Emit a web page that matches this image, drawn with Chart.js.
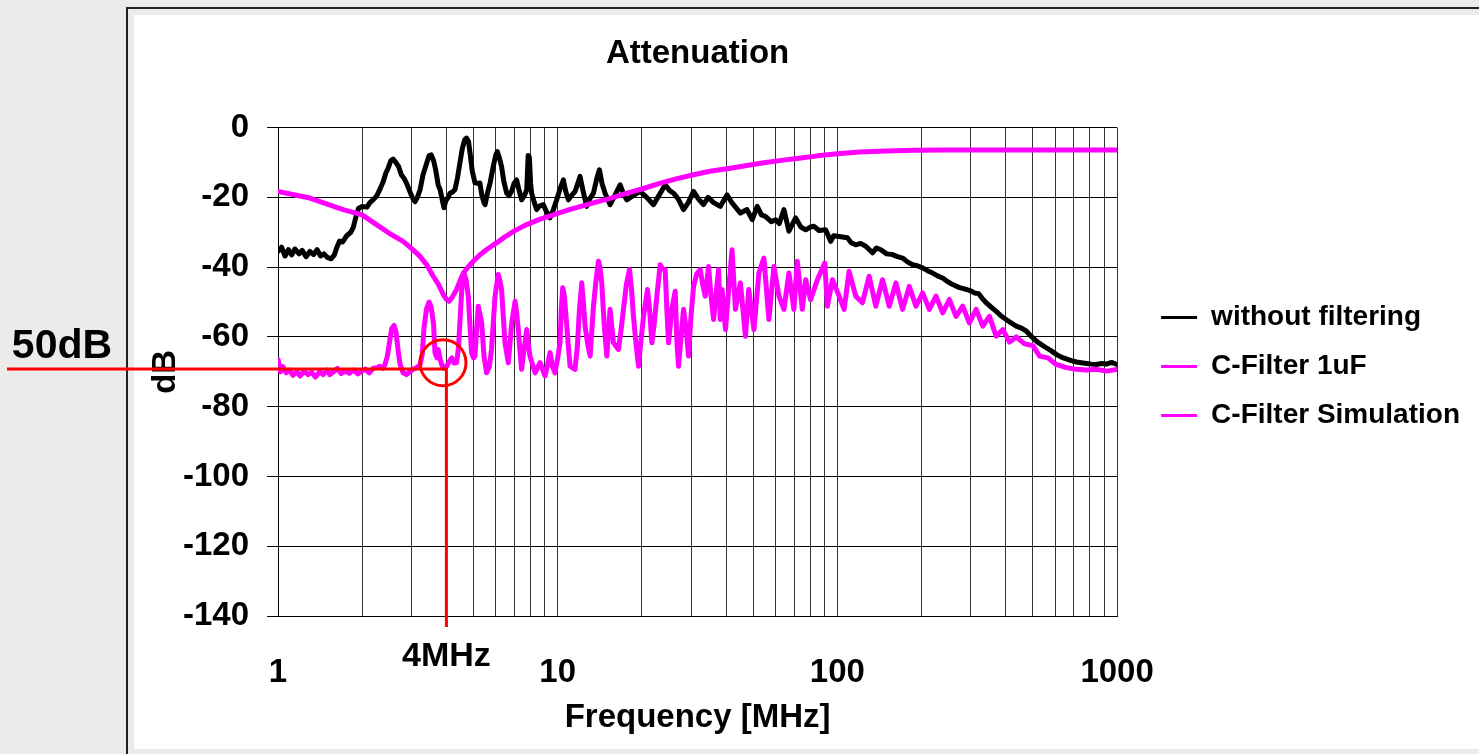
<!DOCTYPE html>
<html lang="en">
<head>
    <meta charset="UTF-8">
    <title>Attenuation</title>
    <script src="https://cdn.jsdelivr.net/npm/chart.js"></script>
    <style>
        body {
            margin: 0;
            background-color: #ebebeb;
            overflow: hidden;
        }
        .frame {
            position: absolute;
            left: 126px;
            top: 7px;
            right: 0;
            bottom: 0;
            border-left: 2px solid #222;
            border-top: 2px solid #222;
            background-color: #ebebeb;
        }
        .sheet {
            position: absolute;
            left: 134px;
            top: 15px;
            right: 0;
            height: 734px;
            background-color: #ffffff;
        }
        #chart {
            position: absolute;
            left: 0;
            top: 0;
        }
    </style>
</head>
<body>
    <div class="frame"></div>
    <div class="sheet"></div>
    <canvas id="chart" width="1479" height="754"></canvas>

    <script>
        // Frequency axis (MHz): grid lines and labelled decades
        const gridFreqs = [1, 2, 3, 4, 5, 6, 7, 8, 9, 10, 20, 30, 40, 50, 60, 70, 80, 90,
                           100, 200, 300, 400, 500, 600, 700, 800, 900, 1000];
        const labelFreqs = [1, 10, 100, 1000];

        const seriesNames = ['without filtering', 'C-Filter 1uF', 'C-Filter Simulation'];

        // [frequency MHz, dB]
        const withoutFiltering = [
            [1.00, -35.5], [1.03, -34.3], [1.06, -36.8], [1.09, -35.0], [1.12, -36.5], [1.15, -34.8],
            [1.19, -36.2], [1.22, -35.2], [1.26, -37.0], [1.30, -35.5], [1.34, -36.4], [1.38, -35.0],
            [1.42, -36.8], [1.46, -36.2], [1.50, -37.2], [1.55, -37.6], [1.59, -36.5], [1.62, -34.5],
            [1.66, -32.5], [1.70, -32.8], [1.76, -31.0], [1.82, -30.0], [1.86, -28.5], [1.90, -25.5],
            [1.94, -23.2], [2.00, -22.6], [2.08, -22.8], [2.13, -21.5], [2.20, -20.5], [2.25, -19.7],
            [2.32, -17.5], [2.38, -15.4], [2.43, -13.0], [2.48, -11.5], [2.53, -9.5], [2.58, -9.0],
            [2.63, -9.8], [2.70, -11.2], [2.76, -13.5], [2.82, -14.5], [2.88, -15.9], [2.95, -18.0],
            [3.02, -20.0], [3.09, -21.2], [3.15, -20.0], [3.22, -17.8], [3.30, -13.5], [3.40, -10.2],
            [3.47, -8.0], [3.53, -7.8], [3.60, -9.5], [3.66, -12.0], [3.74, -16.5], [3.80, -17.8],
            [3.86, -20.5], [3.92, -23.0], [3.98, -21.0], [4.06, -20.0], [4.12, -18.8], [4.20, -18.5],
            [4.29, -17.8], [4.38, -14.5], [4.47, -10.2], [4.56, -6.0], [4.65, -3.5], [4.72, -3.0],
            [4.80, -4.0], [4.86, -7.3], [4.95, -12.5], [5.06, -15.8], [5.18, -16.0], [5.27, -15.9],
            [5.36, -19.5], [5.45, -21.5], [5.50, -22.1], [5.60, -19.0], [5.73, -15.9], [5.88, -11.2],
            [6.00, -8.0], [6.08, -6.9], [6.18, -8.5], [6.30, -11.2], [6.42, -15.5], [6.57, -18.8],
            [6.70, -19.5], [6.84, -18.3], [6.98, -16.0], [7.13, -15.0], [7.25, -17.5], [7.43, -20.7],
            [7.60, -19.5], [7.75, -17.8], [7.84, -8.0], [7.92, -8.5], [8.00, -16.0], [8.07, -18.8],
            [8.25, -21.5], [8.41, -23.5], [8.60, -22.5], [8.89, -22.1], [9.10, -24.0], [9.39, -25.9],
            [9.65, -23.5], [9.92, -20.7], [10.2, -17.5], [10.48, -15.0], [10.7, -18.5], [10.92, -20.7],
            [11.2, -19.5], [11.54, -18.3], [11.8, -16.0], [12.02, -14.0], [12.35, -18.5], [12.70, -22.6],
            [13.0, -20.5], [13.42, -18.8], [13.8, -14.5], [14.10, -12.1], [14.4, -16.0], [14.77, -18.8],
            [15.40, -22.1], [16.0, -19.5], [16.72, -16.4], [17.2, -19.0], [17.66, -20.7], [18.6, -19.5],
            [19.71, -18.3], [20.8, -20.0], [22.00, -22.1], [23.0, -19.5], [24.23, -16.4], [25.1, -18.0],
            [25.95, -18.8], [27.0, -20.5], [28.18, -23.5], [29.3, -21.5], [30.6, -18.3], [31.9, -20.5],
            [33.2, -22.1], [34.5, -20.0], [36.1, -21.5], [38.1, -22.6], [40.3, -19.3], [42.0, -21.6],
            [45.0, -24.5], [47.5, -23.5], [49.6, -26.4], [51.7, -22.6], [53.5, -25.0], [55.4, -25.5],
            [58.0, -27.0], [60.1, -26.4], [62.0, -27.5], [64.4, -23.5], [67.1, -29.7], [70.9, -25.9],
            [74.0, -28.5], [77.0, -29.3], [80.0, -28.5], [82.5, -28.3], [86.0, -29.5], [90.8, -29.3],
            [94.6, -32.6], [97.0, -31.0], [101.4, -31.2], [108.6, -31.6], [112, -33.0], [116.3, -33.6],
            [121, -33.2], [126.3, -34.0], [133.5, -35.9], [138, -34.5], [143, -35.0], [150, -36.2],
            [157.4, -36.4], [164, -37.0], [171, -37.4], [178, -38.5], [185.7, -39.3], [193, -39.6],
            [201.7, -40.2], [210, -41.0], [219, -41.7], [228, -42.5], [237.8, -43.1], [248, -44.2],
            [258.4, -45.0], [272, -45.8], [288.4, -46.4], [300, -46.8], [309, -47.4], [320, -47.6],
            [330, -49.0], [340, -50.2], [355, -51.5], [369, -52.6], [385, -54.0], [401, -55.0],
            [418, -56.0], [436, -56.9], [455, -57.5], [473, -58.3], [493, -59.8], [514, -61.2],
            [536, -62.2], [558, -63.1], [582, -64.0], [606, -65.0], [632, -65.8], [658, -66.3],
            [686, -66.8], [715, -67.2], [745, -67.4], [777, -67.6], [810, -67.8], [843, -67.9],
            [880, -67.6], [916, -67.8], [955, -67.3], [1000, -67.9]
        ];

        const cFilter1uF = [
            [1.00, -66.5], [1.02, -70.0], [1.04, -68.5], [1.07, -70.3], [1.10, -69.5], [1.13, -71.0],
            [1.17, -70.0], [1.20, -71.2], [1.24, -69.8], [1.28, -70.8], [1.32, -70.2], [1.36, -71.5],
            [1.41, -70.0], [1.45, -70.8], [1.50, -69.5], [1.53, -70.8], [1.58, -70.0], [1.63, -69.0],
            [1.68, -70.5], [1.74, -69.8], [1.80, -70.4], [1.86, -69.5], [1.93, -70.6], [1.98, -70.0],
            [2.05, -69.2], [2.12, -70.3], [2.19, -69.0], [2.26, -68.8], [2.31, -68.4], [2.37, -69.0],
            [2.41, -68.0], [2.46, -65.5], [2.51, -61.0], [2.55, -57.6], [2.60, -56.7], [2.64, -58.5],
            [2.69, -64.0], [2.73, -67.8], [2.80, -70.3], [2.88, -70.8], [2.96, -70.0], [3.05, -69.2],
            [3.13, -68.8], [3.22, -68.0], [3.28, -65.0], [3.33, -57.0], [3.40, -51.8], [3.47, -50.0],
            [3.53, -51.5], [3.60, -56.5], [3.64, -64.5], [3.70, -66.0], [3.74, -63.6], [3.80, -66.5],
            [3.85, -68.0], [3.92, -69.0], [4.01, -68.4], [4.10, -67.0], [4.18, -66.0], [4.26, -67.5],
            [4.35, -67.4], [4.42, -63.0], [4.47, -56.0], [4.55, -45.0], [4.62, -41.7], [4.70, -43.5],
            [4.79, -48.3], [4.85, -56.0], [4.92, -64.5], [5.00, -66.0], [5.06, -65.5], [5.13, -58.0],
            [5.20, -51.2], [5.27, -53.5], [5.35, -56.0], [5.45, -65.5], [5.57, -70.3], [5.70, -68.5],
            [5.80, -63.6], [5.97, -48.3], [6.13, -42.1], [6.22, -44.0], [6.30, -46.4], [6.40, -55.0],
            [6.48, -61.7], [6.66, -67.4], [6.75, -62.0], [6.85, -56.0], [7.04, -49.8], [7.13, -53.0],
            [7.23, -57.9], [7.33, -64.0], [7.43, -69.3], [7.54, -65.0], [7.64, -61.7], [7.75, -57.9],
            [7.85, -62.0], [7.96, -65.5], [8.30, -70.3], [8.65, -67.4], [9.01, -71.2], [9.20, -68.0],
            [9.39, -64.5], [9.58, -68.5], [9.78, -70.3], [10.0, -66.0], [10.19, -61.7], [10.30, -52.0],
            [10.42, -45.9], [10.55, -48.0], [10.71, -54.1], [10.90, -62.0], [11.07, -68.4], [11.53, -69.3],
            [11.75, -63.0], [11.96, -52.1], [12.19, -44.5], [12.35, -50.0], [12.53, -56.9], [12.80, -62.0],
            [13.06, -65.5], [13.25, -58.0], [13.42, -51.2], [13.70, -44.0], [13.98, -38.3], [14.15, -40.0],
            [14.37, -44.5], [14.65, -56.0], [14.98, -65.5], [15.39, -52.1], [15.82, -61.7], [16.49, -63.6],
            [16.85, -58.0], [17.18, -52.1], [17.60, -45.0], [18.06, -40.7], [18.35, -46.0], [18.66, -54.1],
            [19.05, -62.0], [19.45, -68.4], [19.85, -61.0], [20.27, -54.1], [20.94, -46.4], [21.30, -52.0],
            [21.71, -61.7], [22.15, -56.0], [22.62, -48.3], [23.25, -39.3], [23.70, -40.5], [24.23, -40.7],
            [24.55, -52.0], [24.91, -61.7], [25.60, -52.0], [26.31, -46.9], [26.70, -62.0], [27.04, -68.4],
            [27.60, -60.0], [28.18, -52.1], [28.80, -58.0], [29.37, -65.5], [29.90, -55.0], [30.60, -45.5],
            [31.40, -42.0], [32.33, -40.7], [33.0, -45.0], [33.69, -48.3], [34.63, -39.8], [35.3, -48.0],
            [36.09, -55.0], [36.9, -47.0], [37.61, -40.7], [38.1, -55.0], [38.7, -46.4], [39.8, -57.9],
            [41.0, -45.0], [42.0, -35.0], [43.2, -52.1], [45.0, -44.5], [46.9, -59.8], [48.2, -46.4],
            [50.3, -57.9], [52.4, -41.7], [54.6, -37.4], [56.9, -55.0], [59.3, -39.8], [61.8, -48.3],
            [64.4, -52.1], [67.1, -41.7], [69.9, -52.1], [71.9, -38.3], [74.9, -52.1], [77.0, -43.6],
            [80.2, -49.3], [84.8, -43.6], [90.1, -38.8], [92.1, -51.2], [96.0, -43.6], [101.4, -48.3],
            [105.7, -52.1], [110.1, -41.2], [116.3, -48.3], [122.9, -50.2], [129.9, -42.6], [137.2, -51.2],
            [145.0, -43.6], [153.2, -51.2], [161.9, -44.5], [171.0, -52.1], [180.7, -45.5], [190.9, -51.2],
            [201.7, -47.4], [213.1, -52.1], [225.2, -48.3], [237.9, -53.1], [251.4, -49.3], [265.6, -54.1],
            [280.6, -51.2], [296.5, -56.0], [313.3, -52.1], [331.0, -56.9], [349.7, -54.1], [369.5, -59.8],
            [390.4, -57.9], [412.5, -61.5], [435.8, -60.0], [466.9, -62.0], [500.0, -62.5], [528.3, -65.5],
            [565.8, -66.0], [605.9, -67.9], [658.3, -68.8], [715.2, -69.3], [777.0, -69.5], [844.2, -69.3],
            [917.2, -69.8], [1000, -69.3]
        ];

        const cFilterSimulation = [
            [1.0, -18.3], [1.3, -20.2], [1.71, -23.5], [2.0, -25.0], [2.25, -27.8], [2.5, -30.3],
            [2.8, -32.6], [3.0, -34.6], [3.22, -36.9], [3.4, -39.3], [3.59, -42.6], [3.75, -45.0],
            [3.9, -47.9], [4.0, -49.2], [4.09, -49.8], [4.2, -48.6], [4.35, -46.4], [4.47, -44.0],
            [4.6, -41.7], [4.8, -39.8], [4.99, -38.3], [5.25, -36.6], [5.56, -35.0], [6.0, -33.2],
            [6.4, -31.6], [7.0, -29.6], [7.75, -27.8], [8.6, -26.3], [9.63, -25.0], [11.0, -23.5],
            [13.4, -21.6], [15.5, -20.2], [17.7, -18.8], [20.0, -17.6], [23.3, -15.9], [26.5, -14.7],
            [30.6, -13.5], [35.0, -12.5], [42.0, -11.6], [48.0, -10.8], [55.4, -10.0], [63.0, -9.4],
            [72.9, -8.8], [85, -8.1], [100, -7.5], [120, -7.0], [149, -6.7], [190, -6.5],
            [245, -6.4], [350, -6.4], [500, -6.4], [700, -6.4], [1000, -6.4]
        ];

        // Red marker: 4 MHz at the -70 dB floor
        const markFreq = 4;
        const markDb = -69.2;
        const circleCenter = [3.89, -67.4];

        const FONT = '"Liberation Sans", Arial, Helvetica, sans-serif';
        Chart.defaults.font.family = FONT;
        Chart.defaults.font.weight = 'bold';
        Chart.defaults.color = '#000';

        const toPoints = rows => rows.map(r => ({ x: r[0], y: r[1] }));

        const redMarks = {
            id: 'redMarks',
            afterDraw(chart) {
                const { ctx, scales: { x, y } } = chart;
                const px = x.getPixelForValue(markFreq);
                const py = y.getPixelForValue(markDb);
                ctx.save();
                ctx.strokeStyle = '#ff0000';
                ctx.lineWidth = 3;
                ctx.beginPath();
                ctx.moveTo(7, py);
                ctx.lineTo(px, py);
                ctx.lineTo(px, y.bottom + 11);
                ctx.stroke();
                ctx.beginPath();
                ctx.arc(x.getPixelForValue(circleCenter[0]), y.getPixelForValue(circleCenter[1]), 23, 0, Math.PI * 2);
                ctx.stroke();
                ctx.fillStyle = '#000';
                ctx.textAlign = 'center';
                ctx.textBaseline = 'middle';
                ctx.font = 'bold 34px ' + FONT;
                ctx.fillText('4MHz', px, 657);
                ctx.font = 'bold 41px ' + FONT;
                ctx.fillText('50dB', 62, 347);
                ctx.restore();
            }
        };

        new Chart(document.getElementById('chart'), {
            type: 'line',
            data: {
                datasets: [
                    {
                        label: seriesNames[0],
                        data: toPoints(withoutFiltering),
                        borderColor: '#000000',
                        backgroundColor: '#000000',
                        order: 3
                    },
                    {
                        label: seriesNames[1],
                        data: toPoints(cFilter1uF),
                        borderColor: '#ff00ff',
                        backgroundColor: '#ff00ff',
                        order: 2
                    },
                    {
                        label: seriesNames[2],
                        data: toPoints(cFilterSimulation),
                        borderColor: '#ff00ff',
                        backgroundColor: '#ff00ff',
                        order: 1
                    }
                ]
            },
            options: {
                responsive: false,
                animation: false,
                layout: { padding: { left: 134, top: 15, right: 9, bottom: 8 } },
                elements: {
                    line: { borderWidth: 5, tension: 0, borderJoinStyle: 'round', borderCapStyle: 'round' },
                    point: { radius: 0 }
                },
                plugins: {
                    title: {
                        display: true,
                        text: 'Attenuation',
                        fullSize: false,
                        font: { size: 33, weight: 'bold' },
                        padding: { top: 19, bottom: 54 }
                    },
                    legend: {
                        position: 'right',
                        align: 'start',
                        fullSize: false,
                        maxWidth: 340,
                        title: { display: true, text: '', font: { size: 10 }, padding: { top: 143, bottom: 0 } },
                        labels: {
                            boxWidth: 36,
                            boxHeight: 3,
                            padding: 21,
                            font: { size: 28, weight: 'bold' },
                            sort: (a, b) => a.datasetIndex - b.datasetIndex,
                            generateLabels: chart => Chart.defaults.plugins.legend.labels.generateLabels(chart)
                                .map(l => Object.assign(l, { fillStyle: l.strokeStyle, lineWidth: 0 }))
                        }
                    },
                    tooltip: { enabled: false }
                },
                scales: {
                    x: {
                        type: 'logarithmic',
                        min: 1,
                        max: 1000,
                        afterBuildTicks: s => { s.ticks = gridFreqs.map(v => ({ value: v })); },
                        afterFit: s => { s.height = 130; },
                        grid: { color: '#333', lineWidth: 1, drawTicks: false },
                        border: { color: '#000', width: 1 },
                        ticks: {
                            autoSkip: false,
                            maxRotation: 0,
                            minRotation: 0,
                            padding: 37,
                            font: { size: 33, weight: 'bold' },
                            callback: v => labelFreqs.includes(v) ? String(v) : ''
                        },
                        title: {
                            display: true,
                            text: 'Frequency [MHz]',
                            font: { size: 33, weight: 'bold' },
                            padding: { top: 0, bottom: 8 }
                        }
                    },
                    y: {
                        min: -140,
                        max: 0,
                        afterFit: s => { s.width = 144; },
                        grid: { color: '#000', lineWidth: 1, drawTicks: true, tickLength: 11 },
                        border: { color: '#000', width: 1 },
                        ticks: { stepSize: 20, padding: 18, font: { size: 33, weight: 'bold' } },
                        title: {
                            display: true,
                            text: 'dB',
                            font: { size: 33, weight: 'bold' },
                            padding: { top: 12, bottom: 0 }
                        }
                    },
                    gap: {
                        type: 'linear',
                        position: 'right',
                        afterFit: s => { s.width = 23; },
                        grid: { display: false, drawTicks: false },
                        border: { display: false },
                        ticks: { display: false }
                    }
                }
            },
            plugins: [redMarks]
        });
    </script>
</body>
</html>
